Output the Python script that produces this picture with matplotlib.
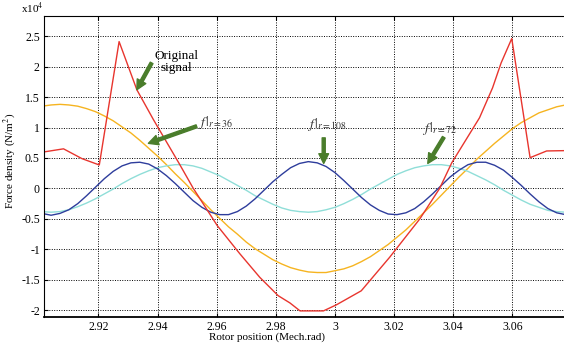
import numpy as np
import matplotlib
matplotlib.use('Agg')
import matplotlib.pyplot as plt

# rotor position (mech. rad), sampling grid for the harmonics
positions = np.linspace(2.901, 3.078, 60)

# harmonic components, x1e4 N/m^2
harm36 = [1.35, 1.37, 1.38, 1.37, 1.35, 1.31, 1.26, 1.19, 1.11, 1.01,
          0.91, 0.79, 0.66, 0.53, 0.39, 0.24, 0.10, -0.05, -0.20, -0.35,
          -0.49, -0.63, -0.75, -0.88, -0.99, -1.08, -1.17, -1.24, -1.30, -1.34,
          -1.37, -1.38, -1.38, -1.35, -1.32, -1.27, -1.20, -1.12, -1.02, -0.92,
          -0.80, -0.68, -0.54, -0.40, -0.26, -0.11, 0.04, 0.19, 0.33, 0.48,
          0.61, 0.74, 0.86, 0.98, 1.08, 1.16, 1.24, 1.29, 1.34, 1.37]
harm108 = [-0.41, -0.44, -0.41, -0.35, -0.25, -0.12, 0.02, 0.16, 0.28, 0.37,
           0.42, 0.43, 0.40, 0.32, 0.21, 0.08, -0.06, -0.20, -0.31, -0.39,
           -0.43, -0.43, -0.38, -0.29, -0.17, -0.03, 0.11, 0.23, 0.34, 0.41,
           0.44, 0.42, 0.36, 0.26, 0.13, -0.01, -0.15, -0.27, -0.36, -0.42,
           -0.43, -0.40, -0.33, -0.22, -0.09, 0.05, 0.19, 0.30, 0.39, 0.43,
           0.43, 0.38, 0.30, 0.18, 0.05, -0.09, -0.22, -0.33, -0.40, -0.43]
harm72 = [-0.38, -0.39, -0.38, -0.35, -0.30, -0.24, -0.17, -0.09, -0.01, 0.08,
          0.16, 0.23, 0.29, 0.34, 0.37, 0.39, 0.39, 0.37, 0.33, 0.27,
          0.21, 0.13, 0.05, -0.03, -0.12, -0.19, -0.26, -0.32, -0.36, -0.38,
          -0.39, -0.38, -0.35, -0.31, -0.25, -0.18, -0.10, -0.01, 0.07, 0.15,
          0.23, 0.29, 0.34, 0.37, 0.39, 0.39, 0.37, 0.33, 0.28, 0.21,
          0.14, 0.06, -0.03, -0.11, -0.19, -0.26, -0.31, -0.36, -0.38, -0.39]

# original signal, read point by point
sigX = [2.9017, 2.9082, 2.9144, 2.9203, 2.9270, 2.9330, 2.9386, 2.9473, 2.9521,
        2.9602, 2.9678, 2.9746, 2.9808, 2.9848, 2.9882, 2.9961, 3.0005, 3.0089,
        3.0185, 3.0287, 3.0354, 3.0395, 3.0489, 3.0533, 3.0562, 3.0598, 3.0660,
        3.0716, 3.0773]
sigY = [0.60, 0.65, 0.49, 0.385, 2.41, 1.62, 1.13, 0.41, 0.0,
        -0.61, -1.07, -1.46, -1.76, -1.88, -2.01, -2.01, -1.91, -1.68,
        -1.13, -0.50, 0.0, 0.42, 1.16, 1.65, 2.06, 2.46, 0.505,
        0.615, 0.62]

xTicks = [2.92, 2.94, 2.96, 2.98, 3.0, 3.02, 3.04, 3.06]
xTickLabels = ['2.92', '2.94', '2.96', '2.98', '3', '3.02', '3.04', '3.06']
yTicks = [-2, -1.5, -1, -0.5, 0, 0.5, 1, 1.5, 2, 2.5]
yTickLabels = ['-2', '-1.5', '-1', '-0.5', '0', '0.5', '1', '1.5', '2', '2.5']

GREEN = '#4a7d2b'


def addArrow(ax, tail, tip) -> None:
    ax.annotate('', xy=tip, xytext=tail,
                arrowprops=dict(facecolor=GREEN, edgecolor=GREEN, width=2.2,
                                headwidth=7, headlength=7, shrink=0))


def draw() -> None:
    plt.rcParams['font.family'] = ['Liberation Serif', 'DejaVu Serif']
    plt.rcParams['mathtext.fontset'] = 'stix'

    fig = plt.figure(figsize=(5.64, 3.48), dpi=100)
    ax = fig.add_axes([44 / 564, 31 / 348, 519.5 / 564, 301 / 348])

    ax.plot(positions, harm36, color='#f6b420', lw=1.0)
    ax.plot(positions, harm72, color='#8fded8', lw=1.0)
    ax.plot(positions, harm108, color='#2e3d9c', lw=1.0)
    ax.plot(sigX, sigY, color='#e8352e', lw=1.0)

    ax.set_xlim(2.9016, 3.0773)
    ax.set_ylim(-2.11, 2.83)
    ax.set_xticks(xTicks, xTickLabels)
    ax.set_yticks(yTicks, yTickLabels)
    ax.tick_params(direction='in', length=3, labelsize=8.5, pad=3, top=True)
    ax.grid(True, linestyle=(0, (1, 1.5)), color='black', linewidth=0.7)
    ax.spines['right'].set_visible(False)
    ax.spines['bottom'].set_linewidth(1.3)

    ax.set_xlabel('Rotor position (Mech.rad)', fontsize=8)
    ax.xaxis.set_label_coords(0.43, -0.05)
    ax.set_ylabel('Force density (N/m$^2$)', fontsize=8)
    ax.yaxis.set_label_coords(-0.05, 0.52)
    ax.text(0, 1.0, r'x10$^4$', transform=ax.transAxes, ha='right', va='bottom', fontsize=8)

    ax.text(2.9463, 2.07, 'Original\nsignal', ha='center', va='center', fontsize=9.5, linespacing=1.0)
    addArrow(ax, (2.938, 2.06), (2.933, 1.62))

    ax.text(2.9537, 1.09, r'$f\,|_{r=36}$', ha='left', va='center', fontsize=10, color='#333333')
    addArrow(ax, (2.9532, 1.02), (2.9369, 0.74))

    ax.text(2.9904, 1.05, r'$f\,|_{r=108}$', ha='left', va='center', fontsize=10, color='#333333')
    addArrow(ax, (2.9962, 0.83), (2.9962, 0.41))

    ax.text(3.0296, 0.98, r'$f\,|_{r=72}$', ha='left', va='center', fontsize=10, color='#333333')
    addArrow(ax, (3.0368, 0.84), (3.0314, 0.41))

    fig.savefig('out.png', dpi=100)


if __name__ == '__main__':
    draw()
